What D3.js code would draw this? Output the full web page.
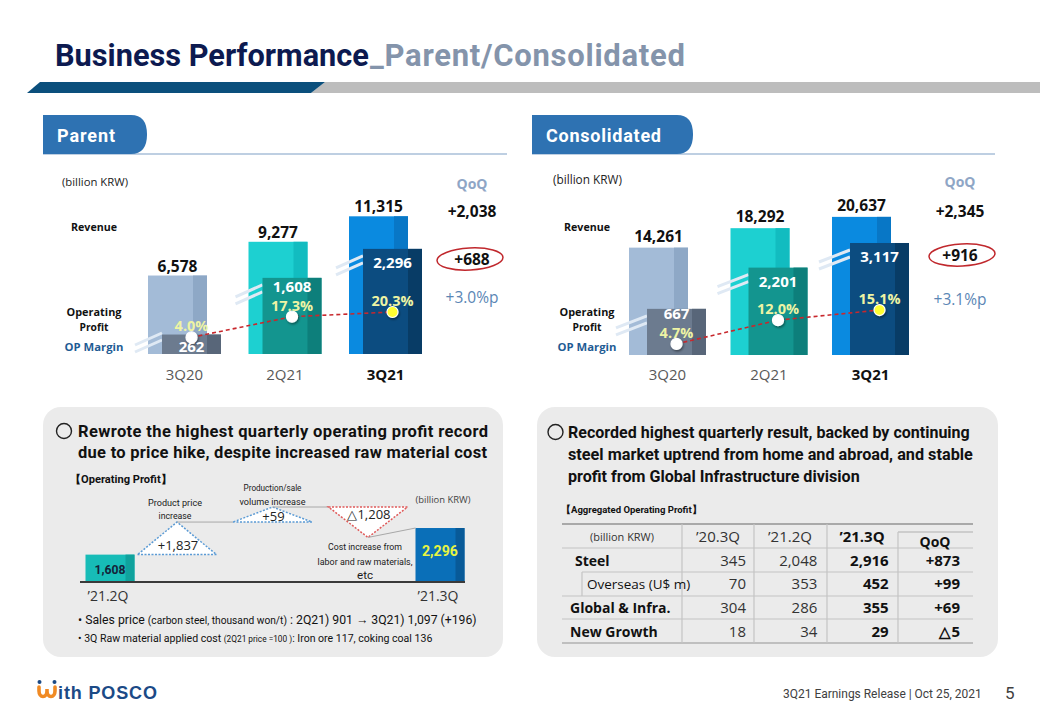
<!DOCTYPE html>
<html><head><meta charset="utf-8">
<script src="https://cdn.jsdelivr.net/npm/d3@7"></script>
<style>body{margin:0;background:#fff}svg{display:block}</style>
</head><body>
<script>
// ---------------- DATA ----------------
const periods = ["3Q20", "2Q21", "3Q21"];
const parentRevenue = [6578, 9277, 11315];
const parentOP = [262, 1608, 2296];
const parentMargin = [4.0, 17.3, 20.3];
const parentQoQ = ["+2,038", "+688", "+3.0%p"];
const consRevenue = [14261, 18292, 20637];
const consOP = [667, 2201, 3117];
const consMargin = [4.7, 12.0, 15.1];
const consQoQ = ["+2,345", "+916", "+3.1%p"];
const wfEnds = ["’21.2Q", "’21.3Q"];
const wfEndValues = [1608, 2296];
const wfSteps = ["Product price increase", "Production/sale volume increase", "Cost increase from labor and raw materials, etc"];
const wfStepValues = [1837, 59, -1208];
const tableCols = ["’20.3Q", "’21.2Q", "’21.3Q", "QoQ"];
const tableRows = ["Steel", "Overseas (U$ m)", "Global & Infra.", "New Growth"];
const steelOP = [345, 2048, 2916];
const overseasOP = [70, 353, 452];
const globalInfraOP = [304, 286, 355];
const newGrowthOP = [18, 34, 29];
const tableQoQ = ["+873", "+99", "+69", "△5"];

// ---------------- SETUP ----------------
const W = 1040, H = 720;
const svg = d3.select("body").append("svg").attr("width", W).attr("height", H);
svg.append("rect").attr("width", W).attr("height", H).attr("fill", "#fff");
const defs = svg.append("defs");
defs.append("filter").attr("id", "sh").attr("x", "-50%").attr("y", "-50%").attr("width", "200%").attr("height", "200%")
  .html('<feDropShadow dx="1" dy="1.5" stdDeviation="1" flood-color="#000" flood-opacity="0.45"/>');

const SANS = "'Open Sans','Noto Sans',sans-serif";
const ROBO = "Roboto,'Open Sans',sans-serif";
const NARROW = "'Liberation Sans Narrow','Roboto',sans-serif";
const fmt = d3.format(",");

function fit(t, target) {
  const w = t.node().getComputedTextLength();
  if (w > target) {
    const k = target / w;
    t.attr("font-size", +t.attr("font-size") * k);
    t.selectAll("tspan").each(function () {
      const s = d3.select(this);
      if (s.attr("font-size")) s.attr("font-size", +s.attr("font-size") * k);
    });
  } else if (w < target - 1) {
    t.attr("textLength", target).attr("lengthAdjust", "spacing");
  }
  return t;
}
function txt(g, x, y, s, o = {}) {
  const t = g.append("text").attr("x", x).attr("y", y).text(s)
    .attr("font-family", o.ff || SANS).attr("font-size", o.fs || 13)
    .attr("font-weight", o.fw || "normal").attr("fill", o.fill || "#222")
    .attr("text-anchor", o.anchor || "start");
  if (o.len) fit(t, o.len);
  return t;
}

// ---------------- HEADER ----------------
svg.append("polygon").attr("points", "311,93 325,82 1040,82 1040,93").attr("fill", "#bdbdbd");
svg.append("polygon").attr("points", "27,93 40,82 325,82 311,93").attr("fill", "#0b4f7c");
txt(svg, 55, 66, "Business Performance", { ff: ROBO, fs: 31, fw: "bold", fill: "#0d1a50", len: 314 });
txt(svg, 370, 66, "_Parent/Consolidated", { ff: ROBO, fs: 31, fw: "bold", fill: "#8494ab", len: 315 });

function tab(x0, x1, label, lw, ulEnd) {
  svg.append("line").attr("x1", x0).attr("x2", ulEnd).attr("y1", 154).attr("y2", 154)
    .attr("stroke", "#a9bfd9").attr("stroke-width", 1.5);
  svg.append("path").attr("d", `M${x0},115 H${x1 - 16} Q${x1},115 ${x1},134.5 Q${x1},154 ${x1 - 16},154 H${x0} Z`)
    .attr("fill", "#2e72b2");
  txt(svg, x0 + 14, 142, label, { ff: ROBO, fs: 18, fw: "bold", fill: "#fff", len: lw });
}
tab(43, 147, "Parent", 58, 507);
tab(532, 693, "Consolidated", 115, 995);

// ---------------- TOP CHARTS ----------------
const revFill = ["#a3bbd7", "#1dd0d1", "#0a8ae0"];
const revStripe = ["#8ea8c6", "#12bcc0", "#0877c6"];
const opFill = ["#6c7b8f", "#13958f", "#0c4c80"];
const opStripe = ["#586679", "#0d7f7b", "#083c66"];

function drawChart(cfg) {
  const g = svg.append("g");
  const x = d3.scalePoint().domain(periods).range(cfg.xRange);
  const yRev = d3.scaleLinear().domain(cfg.revDomain).range([cfg.base, cfg.revTop]);
  const yOp = d3.scaleLinear().domain(cfg.opDomain).range([cfg.base, cfg.opTop]);
  const yM = d3.scaleLinear().domain(cfg.mDomain).range(cfg.mRange);
  const bw = 59, sw = 14, off = cfg.opOffset;

  txt(g, cfg.unitX, cfg.unitY, "(billion KRW)", { fs: 12, fill: "#222", len: cfg.unitLen });

  periods.forEach((p, i) => {
    const x0 = x(p), t = yRev(cfg.rev[i]);
    g.append("rect").attr("x", x0).attr("y", t).attr("width", bw).attr("height", cfg.base - t).attr("fill", revFill[i]);
    g.append("rect").attr("x", x0 + bw - sw).attr("y", t).attr("width", sw).attr("height", cfg.base - t).attr("fill", revStripe[i]);
    txt(g, x0 + bw / 2, t - cfg.revGap, fmt(cfg.rev[i]), { fs: 15.5, fw: "bold", fill: "#111", anchor: "middle" });
  });
  periods.forEach((p, i) => {
    const x0 = x(p), ot = yOp(cfg.op[i]);
    const y1 = Math.min(ot + 26, cfg.base - 2);
    [0, -7].forEach(d => {
      g.append("line").attr("x1", x0 - 13).attr("y1", y1 + d).attr("x2", x0 + off).attr("y2", y1 - 12 + d)
        .attr("stroke", "#dfe9f4").attr("stroke-width", 3);
    });
  });
  periods.forEach((p, i) => {
    const x0 = x(p) + off, t = yOp(cfg.op[i]);
    g.append("rect").attr("x", x0).attr("y", t).attr("width", bw).attr("height", cfg.base - t).attr("fill", opFill[i]);
    g.append("rect").attr("x", x0 + bw - sw).attr("y", t).attr("width", sw).attr("height", cfg.base - t).attr("fill", opStripe[i]);
  });
  const pts = periods.map((p, i) => [x(p) + off + bw / 2, yM(cfg.margin[i])]);
  g.append("path").attr("d", d3.line()(pts)).attr("fill", "none").attr("stroke", "#c8282d")
    .attr("stroke-width", 1.6).attr("stroke-dasharray", "4,3");
  pts.forEach((pt, i) => {
    g.append("circle").attr("cx", pt[0]).attr("cy", pt[1]).attr("r", 5.5)
      .attr("fill", i === 2 ? "#ffff30" : "#fff").attr("stroke", "#fff").attr("stroke-width", 1.2)
      .attr("filter", "url(#sh)");
  });
  periods.forEach((p, i) => {
    const cx = x(p) + off + bw / 2, t = yOp(cfg.op[i]);
    const mY = yM(cfg.margin[i]) - 11;
    txt(g, cx, mY + 5, d3.format(".1f")(cfg.margin[i]) + "%", { fs: 14.5, fw: "bold", fill: "#eef4a4", anchor: "middle" });
    const h = cfg.base - t;
    const oy = h < 30 ? t + h / 2 + 2 : Math.min(t + 14, mY - 19);
    txt(g, cx, oy + 5.5, fmt(cfg.op[i]), { fs: 15, fw: "bold", fill: "#fff", anchor: "middle" });
    const catX = (x(p) + x(p) + off + bw) / 2;
    txt(g, catX, 380, p, { fs: 15, fw: i === 2 ? "bold" : "normal", fill: i === 2 ? "#111" : "#595959", anchor: "middle" });
  });
  const rx = cfg.rowX;
  txt(g, rx, 231, "Revenue", { fs: 12.5, fw: "bold", fill: "#111", anchor: "middle", len: 46 });
  txt(g, rx, 316, "Operating", { fs: 13, fw: "bold", fill: "#111", anchor: "middle", len: 55 });
  txt(g, rx, 331, "Profit", { fs: 13, fw: "bold", fill: "#111", anchor: "middle", len: 29 });
  txt(g, rx, 351, "OP Margin", { fs: 13, fw: "bold", fill: "#1f5c94", anchor: "middle", len: 59 });
  const qx = cfg.qoqX;
  txt(g, qx, cfg.qoqY[0], "QoQ", { fs: 14, fw: "bold", fill: "#8fa6c6", anchor: "middle" });
  txt(g, qx, cfg.qoqY[1], cfg.qoq[0], { fs: 15.5, fw: "bold", fill: "#111", anchor: "middle" });
  txt(g, qx, cfg.qoqY[2], cfg.qoq[1], { fs: 15.5, fw: "bold", fill: "#111", anchor: "middle" });
  txt(g, qx, cfg.qoqY[3], cfg.qoq[2], { fs: 15.5, fill: "#5b86b5", anchor: "middle" });
  g.append("ellipse").attr("cx", cfg.ell[0]).attr("cy", cfg.ell[1]).attr("rx", 33).attr("ry", 11)
    .attr("fill", "none").attr("stroke", "#c0282d").attr("stroke-width", 1.5)
    .attr("transform", `rotate(-3 ${cfg.ell[0]} ${cfg.ell[1]})`);
}

drawChart({
  rev: parentRevenue, op: parentOP, margin: parentMargin, qoq: parentQoQ,
  xRange: [148, 349], opOffset: 14, base: 354,
  revDomain: [300, 12000], revTop: 207.75,
  opDomain: [-200, 2500], opTop: 240.3,
  mDomain: [0, 25], mRange: [343.6, 304.7],
  revGap: 4, rowX: 94, qoqX: 472, qoqY: [189, 216.5, 264.5, 302.5], ell: [470, 259],
  unitX: 62, unitY: 186, unitLen: 66
});
drawChart({
  rev: consRevenue, op: consOP, margin: consMargin, qoq: consQoQ,
  xRange: [629, 832], opOffset: 18, base: 355,
  revDomain: [-8000, 22000], revTop: 210.3,
  opDomain: [-1050, 3500], opTop: 232.7,
  mDomain: [0, 20], mRange: [359.2, 294.1],
  revGap: 6, rowX: 587, qoqX: 960, qoqY: [187, 216.5, 260.5, 304.5], ell: [962, 255],
  unitX: 553, unitY: 184, unitLen: 69
});

// ---------------- BOTTOM PANELS ----------------
svg.append("rect").attr("x", 43).attr("y", 407).attr("width", 460).attr("height", 250).attr("rx", 18).attr("fill", "#ebebeb");
svg.append("rect").attr("x", 537).attr("y", 407).attr("width", 461).attr("height", 250).attr("rx", 18).attr("fill", "#ebebeb");

svg.append("circle").attr("cx", 64).attr("cy", 431).attr("r", 7.5).attr("fill", "none").attr("stroke", "#222").attr("stroke-width", 1.4);
txt(svg, 78, 437, "Rewrote the highest quarterly operating profit record", { ff: ROBO, fs: 16.5, fw: "bold", fill: "#111", len: 410 });
txt(svg, 78, 458, "due to price hike, despite increased raw material cost", { ff: ROBO, fs: 16.5, fw: "bold", fill: "#111", len: 409 });
txt(svg, 70, 483, "【Operating Profit】", { ff: ROBO, fs: 13, fw: "bold", fill: "#111", len: 102 });
txt(svg, 443, 503, "(billion KRW)", { fs: 10, fill: "#444", anchor: "middle", len: 55 });

// waterfall
const wf = svg.append("g");
const wfBase = 582;
const xEnd = d3.scalePoint().domain(wfEnds).range([110, 440]);
const xStep = d3.scalePoint().domain(wfSteps).range([177, 368]);
const hBar = d3.scaleLinear().domain([900, 2400]).range([0, 58]);
const hStep = d3.scaleLog().domain([10, 2000]).range([6, 33]);
const wfBw = 49, triW = 79;
const endFill = ["#17bcb7", "#0a6fb8"], endStripe = ["#10a29d", "#085a98"];
wfEnds.forEach((e, i) => {
  const cx = xEnd(e), t = wfBase - hBar(wfEndValues[i]);
  wf.append("rect").attr("x", cx - wfBw / 2).attr("y", t).attr("width", wfBw).attr("height", wfBase - t).attr("fill", endFill[i]);
  wf.append("rect").attr("x", cx + wfBw / 2 - 9).attr("y", t).attr("width", 9).attr("height", wfBase - t).attr("fill", endStripe[i]);
  if (i === 0) txt(wf, cx, t + 19, fmt(wfEndValues[i]), { ff: NARROW, fs: 16, fw: "bold", fill: "#14233a", anchor: "middle", len: 31 });
  else txt(wf, cx, t + 28, fmt(wfEndValues[i]), { ff: ROBO, fs: 16, fw: "bold", fill: "#e8f542", anchor: "middle", len: 36 });
  txt(wf, cx - 2, 601, e, { fs: 15, fill: "#333", anchor: "middle", len: 41 });
});
wf.append("line").attr("x1", 80).attr("x2", 465).attr("y1", wfBase).attr("y2", wfBase).attr("stroke", "#3a3a3a").attr("stroke-width", 2);

let level = wfBase - hBar(wfEndValues[0]);
let prevX = null;
const stepLabels = [
  { lines: ["Product price", "increase"], lens: [54, 33], dy: [-16, -3], dx: -2 },
  { lines: ["Production/sale", "volume increase"], lens: [58, 66], dy: [-16, -2], dx: 0 },
  { lines: ["Cost increase from", "labor and raw materials,", "etc"], lens: [74, 95, 16], dy: [13, 28, 42], dx: -3 }
];
wfStepValues.forEach((v, i) => {
  const cx = xStep(wfSteps[i]);
  const h = hStep(Math.abs(v));
  const up = v > 0;
  const apex = up ? level - h : level + h;
  if (prevX !== null) {
    wf.append("line").attr("x1", prevX).attr("x2", cx - triW / 2).attr("y1", level).attr("y2", level)
      .attr("stroke", "#a8a8a8").attr("stroke-width", 1);
  }
  wf.append("polygon").attr("points", [[cx - triW / 2, level], [cx + triW / 2, level], [cx, apex]].map(d => d.join(",")).join(" "))
    .attr("fill", "#fff").attr("stroke", up ? "#5b9bd5" : "#e05a5a").attr("stroke-width", 1.5).attr("stroke-dasharray", "2,1.5");
  const lbl = (up ? "+" : "△") + fmt(Math.abs(v));
  const ty = up ? level - (h > 20 ? 5 : 1) : level + 12;
  txt(wf, cx + 1, ty, lbl, { fs: 13, fill: "#222", anchor: "middle" });
  const sl = stepLabels[i];
  sl.lines.forEach((s, j) => {
    txt(wf, cx + sl.dx, apex + sl.dy[j], s, { ff: NARROW, fs: 13, fill: "#1a1a1a", anchor: "middle", len: sl.lens[j] });
  });
  level = apex; prevX = cx;
});
{
  const ex = xEnd(wfEnds[1]) - wfBw / 2, et = wfBase - hBar(wfEndValues[1]);
  wf.append("line").attr("x1", prevX).attr("x2", ex).attr("y1", level).attr("y2", et).attr("stroke", "#a8a8a8").attr("stroke-width", 1);
}

// bullets
{
  const t1 = svg.append("text").attr("x", 78).attr("y", 624).attr("font-family", NARROW).attr("font-size", 15).attr("fill", "#111");
  t1.append("tspan").text("• Sales price ");
  t1.append("tspan").attr("font-size", 12.5).text("(carbon steel, thousand won/t)");
  t1.append("tspan").text(" : 2Q21) 901 → 3Q21) 1,097 (+196)");
  fit(t1, 399);
  const t2 = svg.append("text").attr("x", 78).attr("y", 642).attr("font-family", NARROW).attr("font-size", 14).attr("fill", "#111");
  t2.append("tspan").text("• 3Q Raw material applied cost ");
  t2.append("tspan").attr("font-size", 11).text("(2Q21 price =100 )");
  t2.append("tspan").text(":  Iron ore 117, coking coal 136");
  fit(t2, 355);
}

// right panel text
svg.append("circle").attr("cx", 555.5).attr("cy", 432).attr("r", 7.5).attr("fill", "none").attr("stroke", "#222").attr("stroke-width", 1.4);
txt(svg, 568, 438, "Recorded highest quarterly result, backed by continuing", { ff: ROBO, fs: 17.5, fw: "bold", fill: "#111", len: 402 });
txt(svg, 568, 460, "steel market uptrend from home and abroad, and stable", { ff: ROBO, fs: 17.5, fw: "bold", fill: "#111", len: 405 });
txt(svg, 568, 482, "profit from Global Infrastructure division", { ff: ROBO, fs: 17.5, fw: "bold", fill: "#111", len: 292 });
txt(svg, 561, 513, "【Aggregated Operating Profit】", { ff: ROBO, fs: 13, fw: "bold", fill: "#111", len: 140 });

// table
const tb = svg.append("g");
const colRight = d3.scalePoint().domain(tableCols).range([746, 960]);
const rowY = d3.scalePoint().domain(tableRows).range([560, 631]);
const tableVals = [steelOP, overseasOP, globalInfraOP, newGrowthOP];
const lineC = "#c4c4c4";
const hLines = [548, 572, 596, 619];
hLines.forEach((y, i) => {
  tb.append("line").attr("x1", i === 1 ? 582 : 562).attr("x2", 973).attr("y1", y).attr("y2", y).attr("stroke", lineC).attr("stroke-width", 1.2);
});
tb.append("line").attr("x1", 562).attr("x2", 973).attr("y1", 524).attr("y2", 524).attr("stroke", "#a9a9a9").attr("stroke-width", 2);
tb.append("line").attr("x1", 562).attr("x2", 973).attr("y1", 643).attr("y2", 643).attr("stroke", "#b0b0b0").attr("stroke-width", 1.5);
tb.append("line").attr("x1", 898).attr("x2", 973).attr("y1", 532).attr("y2", 532).attr("stroke", "#b0b0b0").attr("stroke-width", 1.2);
[682, 754, 827].forEach(x => tb.append("line").attr("x1", x).attr("x2", x).attr("y1", 524).attr("y2", 643).attr("stroke", lineC).attr("stroke-width", 1.2));
tb.append("line").attr("x1", 898).attr("x2", 898).attr("y1", 532).attr("y2", 643).attr("stroke", lineC).attr("stroke-width", 1.2);
tb.append("line").attr("x1", 582).attr("x2", 582).attr("y1", 572).attr("y2", 596).attr("stroke", lineC).attr("stroke-width", 1.2);

txt(tb, 622, 541, "(billion KRW)", { fs: 11, fill: "#333", anchor: "middle", len: 64 });
const headCx = [718, 790, 862, 935];
tableCols.forEach((c, i) => {
  const bold = i >= 2;
  txt(tb, headCx[i], i === 3 ? 547 : 542, c, { fs: i === 3 ? 14 : 15, fw: bold ? "bold" : "normal", fill: bold ? "#111" : "#333", anchor: "middle" });
});
const rowLabelX = [575, 587, 570, 570];
tableRows.forEach((r, i) => {
  const y = rowY(r) + 5.5;
  txt(tb, rowLabelX[i], y, r, { fs: i === 1 ? 13.5 : 14, fw: i === 1 ? "normal" : "bold", fill: "#111" });
  tableVals[i].forEach((v, j) => {
    txt(tb, colRight(tableCols[j]), y, fmt(v), { fs: 15, fw: j === 2 ? "bold" : "normal", fill: j === 2 ? "#111" : "#333", anchor: "end" });
  });
  txt(tb, colRight(tableCols[3]), y, tableQoQ[i], { fs: 15, fw: "bold", fill: "#111", anchor: "end" });
});

// ---------------- FOOTER ----------------
svg.append("path").attr("d", "M39,687 v4 a4,5.5 0 0 0 8,0 v-2 v2 a4,5.5 0 0 0 8,0 v-4")
  .attr("fill", "none").attr("stroke", "#f08a24").attr("stroke-width", 3.6).attr("stroke-linecap", "round");
svg.append("circle").attr("cx", 39.5).attr("cy", 682).attr("r", 2).attr("fill", "#1b4a86");
svg.append("circle").attr("cx", 54.5).attr("cy", 682).attr("r", 2).attr("fill", "#1b4a86");
txt(svg, 58, 699, "ith POSCO", { ff: "'Liberation Sans',Arial,sans-serif", fs: 18, fw: "bold", fill: "#1b4a86", len: 99 });
txt(svg, 783, 698, "3Q21 Earnings Release | Oct 25, 2021", { ff: NARROW, fs: 14, fill: "#404040", len: 199 });
txt(svg, 1005, 699, "5", { ff: NARROW, fs: 17, fill: "#404040" });
</script>
</body></html>
